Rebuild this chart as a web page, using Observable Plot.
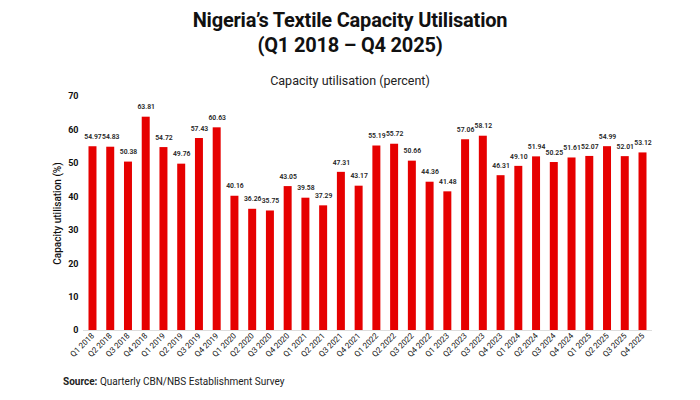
<!DOCTYPE html>
<html><head><meta charset="utf-8">
<script src="https://cdn.jsdelivr.net/npm/d3@7"></script>
<script src="https://cdn.jsdelivr.net/npm/@observablehq/plot@0.6"></script>
<style>
body{margin:0;background:#fff;font-family:Roboto,"Open Sans",sans-serif;width:700px;}
#title{text-align:center;font-weight:700;font-size:20px;line-height:25px;padding-top:8px;color:#111;letter-spacing:-0.2px}
#sub{text-align:center;font-size:12.5px;color:#222;margin-top:15px;height:16px;line-height:16px}
#src{font-size:10px;color:#222;margin-left:63px;margin-top:6px}
</style></head>
<body>
<div id="title">Nigeria’s Textile Capacity Utilisation<br>(Q1 2018 – Q4 2025)</div>
<div id="sub">Capacity utilisation (percent)</div>
<div id="chart"></div>
<div id="src"><b>Source:</b> Quarterly CBN/NBS Establishment Survey</div>
<script>
const quarters = ["Q1 2018","Q2 2018","Q3 2018","Q4 2018","Q1 2019","Q2 2019","Q3 2019","Q4 2019",
"Q1 2020","Q2 2020","Q3 2020","Q4 2020","Q1 2021","Q2 2021","Q3 2021","Q4 2021",
"Q1 2022","Q2 2022","Q3 2022","Q4 2022","Q1 2023","Q2 2023","Q3 2023","Q4 2023",
"Q1 2024","Q2 2024","Q3 2024","Q4 2024","Q1 2025","Q2 2025","Q3 2025","Q4 2025"];
const values = [54.97,54.83,50.38,63.81,54.72,49.76,57.43,60.63,
40.16,36.26,35.75,43.05,39.58,37.29,47.31,43.17,
55.19,55.72,50.66,44.36,41.48,57.06,58.12,46.31,
49.10,51.94,50.25,51.61,52.07,54.99,52.01,53.12];
const yTicks = [0,10,20,30,40,50,60,70];
const data = quarters.map((q,i)=>({q, v: values[i]}));

const chart = Plot.plot({
  width: 700,
  height: 281,
  marginTop: 7,
  marginLeft: 83,
  marginRight: 48,
  marginBottom: 40,
  style: {fontFamily: "Roboto, sans-serif", fontSize: "8px", color: "#111"},
  x: {domain: quarters, paddingInner: 0.55, paddingOuter: 0.31, round: false, label: null, tickSize: 0, tickRotate: -45},
  y: {domain: [0, 70], ticks: yTicks, label: "Capacity utilisation (%)", labelAnchor: "center", tickSize: 0},
  marks: [
    Plot.barY(data, {x: "q", y: "v", fill: "#e60000"}),
    Plot.ruleY([0], {stroke: "#ddd"}),
    Plot.text(data, {x: "q", y: "v", text: d => d.v.toFixed(2), dy: -10, fontSize: 6.8, fontWeight: 600, fill: "#222", letterSpacing: "-0.2px"}),
    Plot.axisY({ticks: yTicks, tickSize: 0, tickPadding: 5, fontWeight: 700, fontSize: 9, label: "Capacity utilisation (%)", labelAnchor: "center", labelArrow: "none", labelOffset: 30}),
    Plot.axisX({tickRotate: -45, tickSize: 0, tickPadding: 4, fontSize: 8, label: null})
  ]
});
document.getElementById("chart").appendChild(chart);
chart.querySelectorAll("g[aria-label='y-axis label'] text").forEach(t=>{t.setAttribute("font-weight","500");t.setAttribute("font-size","10");});
</script>
</body></html>
